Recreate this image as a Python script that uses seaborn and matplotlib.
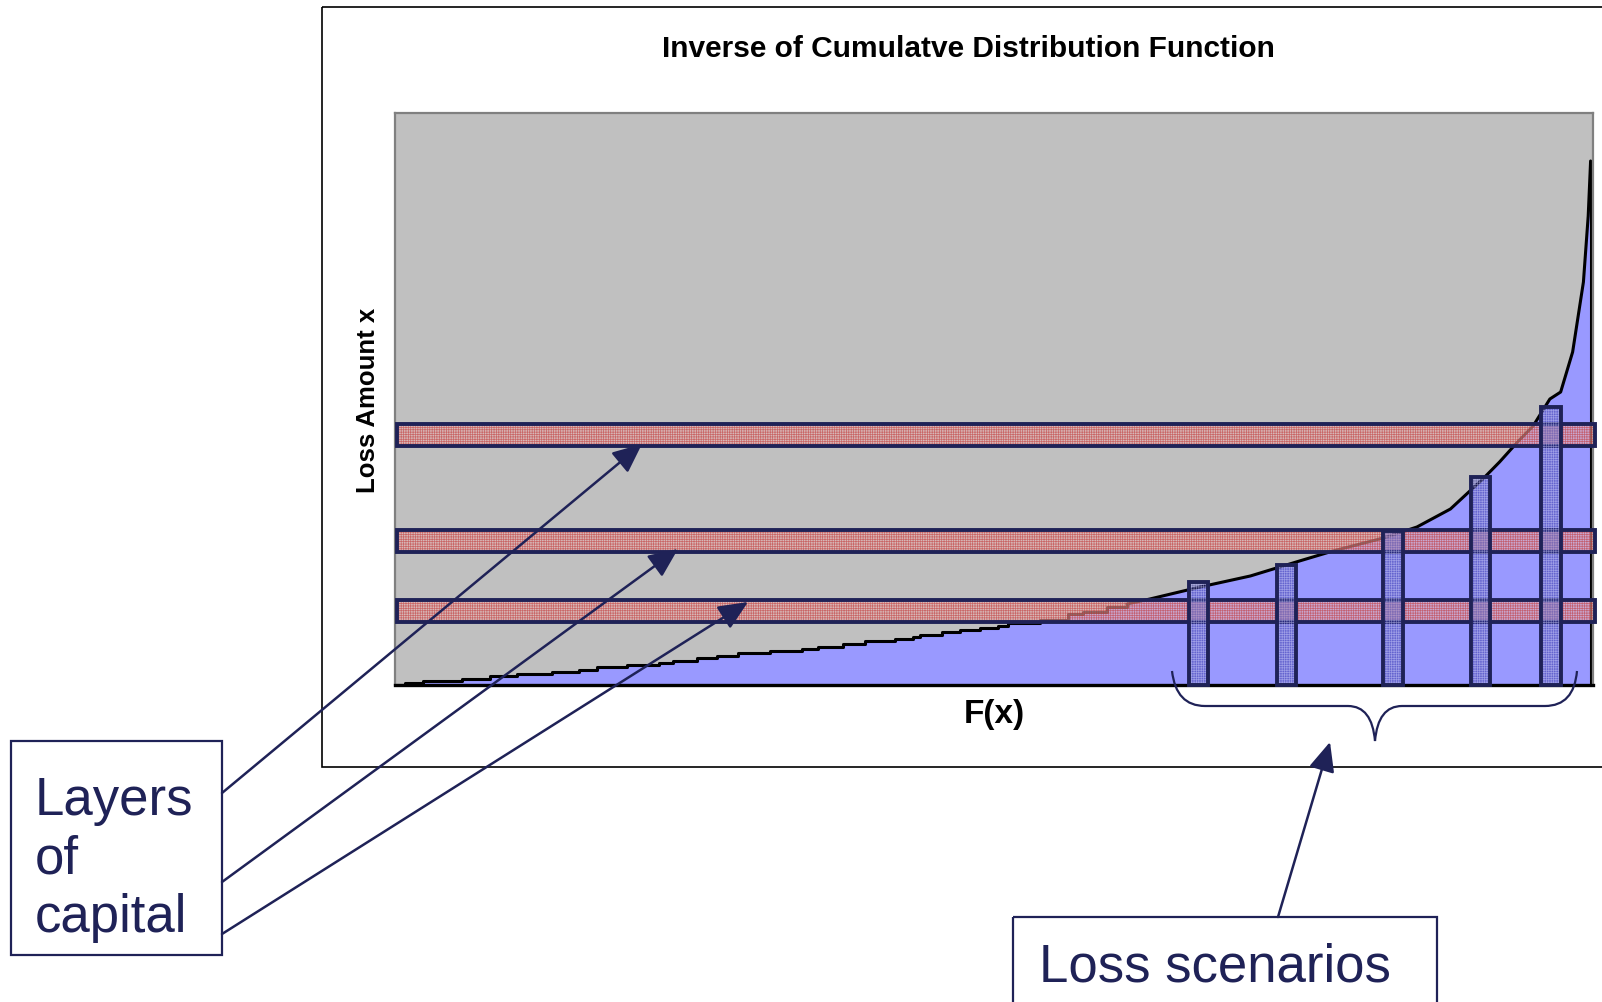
import numpy as np
import pandas as pd
import matplotlib
matplotlib.use("Agg")
import matplotlib.pyplot as plt
import seaborn as sns
from matplotlib.patches import Rectangle, PathPatch
from matplotlib.path import Path

sns.set_theme(style="white")
plt.rcParams['font.family'] = ['Liberation Sans', 'DejaVu Sans']
plt.rcParams['hatch.linewidth'] = 0.5
plt.rcParams['text.color'] = 'black'
plt.rcParams['axes.labelcolor'] = 'black'

# inverse cdf: F(x) and loss amount (0-100 = axis height)
cdf_F = [0.0, 0.008, 0.023, 0.056, 0.079, 0.102, 0.131, 0.154, 0.169, 0.194,
         0.220, 0.232, 0.252, 0.269, 0.286, 0.313, 0.340, 0.353, 0.374, 0.392,
         0.417, 0.432, 0.438, 0.457, 0.472, 0.488, 0.503, 0.512, 0.538, 0.562,
         0.574, 0.594, 0.611, 0.630, 0.672, 0.714, 0.755, 0.783, 0.825, 0.853,
         0.881, 0.908, 0.922, 0.937, 0.950, 0.964, 0.973, 0.983, 0.992, 0.996,
         0.998]
cdf_loss = [0.0, 0.35, 0.70, 1.05, 1.57, 1.92, 2.27, 2.62, 3.15, 3.50,
            3.85, 4.20, 4.72, 5.07, 5.59, 5.94, 6.29, 6.64, 7.17, 7.69,
            8.04, 8.39, 8.74, 9.27, 9.62, 9.97, 10.31, 10.84, 11.36, 12.41,
            12.76, 13.64, 14.16, 15.03, 17.13, 19.06, 21.68, 23.43, 25.70, 27.62,
            30.77, 36.01, 38.99, 42.48, 45.28, 50.00, 51.22, 58.22, 70.45, 82.00,
            91.61]

# layers of capital (loss band low / high)
layer_low = [41.8, 23.3, 11.0]
layer_high = [45.6, 27.1, 14.9]

# loss scenarios (F position and loss)
scen_F = [0.671, 0.744, 0.833, 0.906, 0.965]
scen_loss = [18.0, 21.0, 26.9, 36.4, 48.6]

NAVY = '#1f2257'
BLUE = '#9999FF'
GRAY = '#C0C0C0'

df = pd.DataFrame({"F": cdf_F, "loss": cdf_loss})
df_step = df[df["F"] <= 0.611]
df_tail = df[df["F"] >= 0.611]

fig = plt.figure(figsize=(16.02, 10.03), dpi=100)
ax = fig.add_axes([395 / 1602, 1 - 686 / 1003, 1198 / 1602, 572 / 1003])
ax.set_facecolor(GRAY)

# area under curve (step part overlaps the tail a little so no seam shows)
df_fill = df[df["F"] <= 0.630]
ax.fill_between(df_fill["F"], df_fill["loss"], step="post", color=BLUE, lw=0, zorder=1)
ax.fill_between(df_tail["F"], df_tail["loss"], color=BLUE, lw=0, zorder=1)

sns.lineplot(data=df_step, x="F", y="loss", drawstyle="steps-post", color="black",
             lw=2.2, ax=ax, estimator=None, sort=False, zorder=2)
sns.lineplot(data=df_tail, x="F", y="loss", color="black",
             lw=2.2, ax=ax, estimator=None, sort=False, zorder=2)
ax.vlines(cdf_F[-1], 0, cdf_loss[-1], color="black", lw=2.2, zorder=2)

# layers of capital
lay_c = [(lo + hi) / 2 for lo, hi in zip(layer_low, layer_high)]
lay_h = [hi - lo for lo, hi in zip(layer_low, layer_high)]
ax.barh(lay_c, width=1.0, height=lay_h, left=0.0015, color='#E8B4B4', alpha=0.6,
        hatch='+' * 7, edgecolor='#C03030', lw=0, clip_on=False, zorder=3)
ax.barh(lay_c, width=1.0, height=lay_h, left=0.0015, fill=False,
        edgecolor=NAVY, lw=2.8, clip_on=False, zorder=4)

# loss scenarios
ax.bar(scen_F, scen_loss, width=0.016, color='#3030A0', alpha=0.5,
       hatch='+' * 7, edgecolor='#D8D8FF', lw=0, clip_on=False, zorder=5)
ax.bar(scen_F, scen_loss, width=0.016, fill=False,
       edgecolor=NAVY, lw=2.8, clip_on=False, zorder=6)

ax.set_xlim(0, 1)
ax.set_ylim(0, 100)
ax.set_xticks([])
ax.set_yticks([])
ax.set_xlabel("F(x)", fontsize=24, fontweight="bold", labelpad=9)
ax.set_ylabel("Loss Amount x", fontsize=18.5, fontweight="bold", labelpad=11)
for s in ["top", "left", "right"]:
    ax.spines[s].set_color("#808080")
    ax.spines[s].set_linewidth(1.6)
ax.spines["bottom"].set_color("black")
ax.spines["bottom"].set_linewidth(2.4)

# overlay in pixel coordinates for the annotations
ov = fig.add_axes([0, 0, 1, 1])
ov.set_xlim(0, 1602)
ov.set_ylim(1003, 0)
ov.axis("off")

ov.add_patch(Rectangle((322, 8), 1400, 760, fill=False, ec="black", lw=1.2))
ov.text(968, 49, "Inverse of Cumulatve Distribution Function", ha="center", va="center",
        fontsize=21.5, fontweight="bold")

# text boxes
ov.add_patch(Rectangle((11, 742), 211, 214, fill=False, ec=NAVY, lw=1.6))
ov.text(35, 932, "Layers\nof\ncapital", fontsize=38, color=NAVY, ha="left", va="baseline",
        linespacing=1.22)
ov.add_patch(Rectangle((1013, 918), 424, 100, fill=False, ec=NAVY, lw=1.6))
ov.text(1039, 982, "Loss scenarios", fontsize=38, color=NAVY, ha="left", va="baseline")

arrow = dict(arrowstyle="-|>,head_length=0.9,head_width=0.4", color=NAVY, lw=1.8,
             shrinkA=0, shrinkB=0, mutation_scale=20)
for start, tip in [((222, 794), (642, 445)), ((222, 883), (678, 550)),
                   ((222, 935), (748, 603)), ((1278, 918), (1330, 743))]:
    ov.annotate("", xy=tip, xytext=start, arrowprops=arrow)

# curly brace under the scenarios
verts = [(1172, 672), (1176, 707), (1205, 707), (1348, 707), (1372, 707), (1375, 742),
         (1378, 707), (1402, 707), (1545, 707), (1574, 707), (1577, 672)]
codes = [Path.MOVETO, Path.CURVE3, Path.CURVE3, Path.LINETO, Path.CURVE3, Path.CURVE3,
         Path.CURVE3, Path.CURVE3, Path.LINETO, Path.CURVE3, Path.CURVE3]
ov.add_patch(PathPatch(Path(verts, codes), fill=False, ec=NAVY, lw=1.6))

fig.savefig("out.png", dpi=100)
